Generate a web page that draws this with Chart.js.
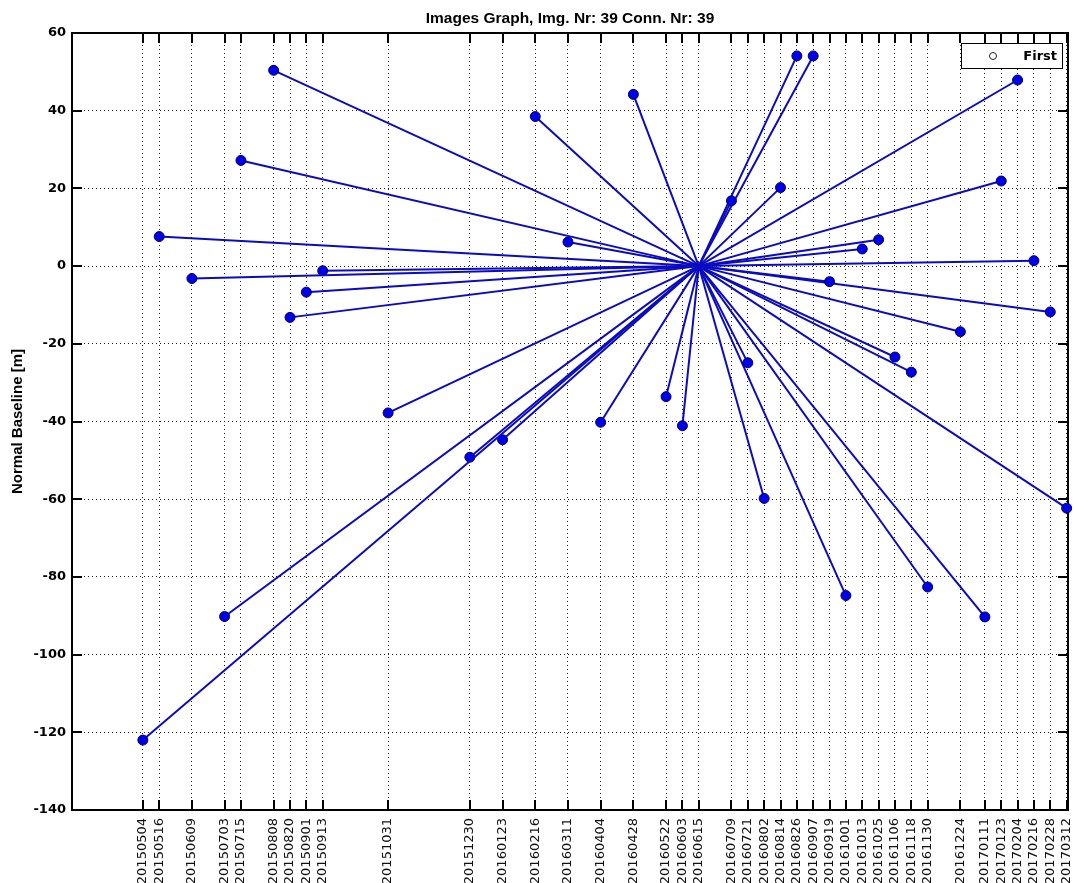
<!DOCTYPE html>
<html>
<head>
<meta charset="utf-8">
<title>Images Graph</title>
<script src="https://cdn.jsdelivr.net/npm/chart.js@4.4.1/dist/chart.umd.min.js"></script>
<style>
  html, body { margin: 0; padding: 0; background: #fff; }
  #wrap { width: 1074px; height: 883px; position: relative; }
</style>
</head>
<body>
<div id="wrap"><canvas id="baseline-chart"></canvas></div>
<script>
// Acquisition dates (yyyymmdd) and their normal baseline to the master image [m]
const acqDates = [
  '20150504', '20150516', '20150609', '20150703', '20150715', '20150808', '20150820',
  '20150901', '20150913', '20151031', '20151230', '20160123', '20160216', '20160311',
  '20160404', '20160428', '20160522', '20160603', '20160615', '20160709', '20160721',
  '20160802', '20160814', '20160826', '20160907', '20160919', '20161001', '20161013',
  '20161025', '20161106', '20161118', '20161130', '20161224', '20170111', '20170123',
  '20170204', '20170216', '20170228', '20170312'
];
const normalBaselines = [
  -122.0, 7.6, -3.2, -90.2, 27.2, 50.4, -13.2,
  -6.7, -1.2, -37.8, -49.2, -44.7, 38.5, 6.2,
  -40.2, 44.2, -33.6, -41.1, 0.0, 16.8, -24.9,
  -59.8, 20.2, 54.1, 54.1, -4.0, -84.8, 4.4,
  6.8, -23.4, -27.3, -82.6, -16.9, -90.3, 21.9,
  47.9, 1.4, -11.8, -62.3
];
const masterDate = '20160615';

// axis limits
const xLimitDates = ['20150313', '20170313'];
const yMin = -140;
const yMax = 60;
const yStep = 20;

const titleText = 'Images Graph, Img. Nr: 39 Conn. Nr: 39';
const yTitleText = 'Normal Baseline [m]';
const legendText = 'First';

const FONT = '"DejaVu Sans", "Liberation Sans", Arial, sans-serif';
const TITLE_FONT = '"Liberation Sans", Arial, sans-serif';
const LINE_BLUE = '#0b0bc0';

// dates -> days since first acquisition, so the x axis is linear in time
function dayNumber(s) {
  return Date.UTC(+s.slice(0, 4), +s.slice(4, 6) - 1, +s.slice(6, 8)) / 86400000;
}
const dayZero = dayNumber(acqDates[0]);
const xDays = acqDates.map(d => dayNumber(d) - dayZero);
const masterIdx = acqDates.indexOf(masterDate);
const masterPoint = { x: xDays[masterIdx], y: normalBaselines[masterIdx] };

// one dataset per connection: master -> slave
const datasets = [];
acqDates.forEach((d, i) => {
  if (i === masterIdx) return;
  datasets.push({
    data: [masterPoint, { x: xDays[i], y: normalBaselines[i] }],
    showLine: true,
    borderColor: LINE_BLUE,
    borderWidth: 2,
    pointRadius: [0, 5],
    pointHoverRadius: [0, 5],
    pointBackgroundColor: '#0000e8',
    pointBorderColor: '#00006a',
    pointBorderWidth: 1,
    clip: false
  });
});

// master image marker (open circle)
datasets.push({
  label: legendText,
  data: [masterPoint],
  showLine: false,
  pointRadius: 3.5,
  pointBackgroundColor: 'rgba(0,0,0,0)',
  pointBorderColor: LINE_BLUE,
  pointBorderWidth: 1,
  clip: false
});

// MATLAB-like box, inward tick marks and legend
const matlabAxes = {
  id: 'matlabAxes',
  beforeDatasetsDraw(chart) {
    const { ctx, chartArea: a, scales: { x, y } } = chart;
    const tl = 10;
    ctx.save();
    ctx.strokeStyle = '#000';
    ctx.lineWidth = 2;
    ctx.beginPath();
    x.ticks.forEach(t => {
      const px = Math.round(x.getPixelForValue(t.value));
      ctx.moveTo(px, a.bottom);
      ctx.lineTo(px, a.bottom - tl);
      ctx.moveTo(px, a.top);
      ctx.lineTo(px, a.top + tl);
    });
    y.ticks.forEach(t => {
      const py = Math.round(y.getPixelForValue(t.value));
      ctx.moveTo(a.left, py);
      ctx.lineTo(a.left + tl, py);
      ctx.moveTo(a.right, py);
      ctx.lineTo(a.right - tl, py);
    });
    ctx.stroke();
    ctx.strokeRect(a.left, a.top, a.right - a.left, a.bottom - a.top);
    ctx.restore();
  },
  afterDraw(chart) {
    const { ctx, chartArea: a } = chart;
    const w = 101, h = 25;
    const bx = a.right - 6 - w;
    const by = a.top + 10;
    ctx.save();
    ctx.fillStyle = '#fff';
    ctx.fillRect(bx, by, w, h);
    ctx.strokeStyle = '#000';
    ctx.lineWidth = 1;
    ctx.strokeRect(bx + 0.5, by + 0.5, w, h);
    ctx.beginPath();
    ctx.arc(bx + 32, by + h / 2 + 0.5, 3.5, 0, Math.PI * 2);
    ctx.strokeStyle = '#222';
    ctx.stroke();
    ctx.fillStyle = '#000';
    ctx.font = 'bold 13px ' + FONT;
    ctx.textAlign = 'right';
    ctx.textBaseline = 'middle';
    ctx.fillText(legendText, bx + w - 5, by + h / 2 + 1);
    ctx.restore();
  }
};

const ctx = document.getElementById('baseline-chart').getContext('2d');
new Chart(ctx, {
  type: 'scatter',
  data: { datasets: datasets },
  plugins: [matlabAxes],
  options: {
    responsive: true,
    maintainAspectRatio: false,
    animation: false,
    events: [],
    layout: { padding: { left: 0, right: 5, top: 0, bottom: 0 } },
    plugins: {
      legend: { display: false },
      tooltip: { enabled: false },
      title: {
        display: true,
        text: titleText,
        fullSize: false,
        color: '#000',
        font: { family: TITLE_FONT, size: 15.5, weight: 'bold', lineHeight: 1.2 },
        padding: { top: 9.7, bottom: 4.7 }
      }
    },
    scales: {
      x: {
        type: 'linear',
        min: dayNumber(xLimitDates[0]) - dayZero,
        max: dayNumber(xLimitDates[1]) - dayZero,
        afterBuildTicks: (scale) => {
          scale.ticks = xDays.map(v => ({ value: v }));
        },
        afterFit: (scale) => {
          scale.height = 73;
          scale.paddingLeft = 0;
          scale.paddingRight = 0;
        },
        grid: { color: '#222', lineWidth: 1, drawTicks: false },
        border: { display: false, dash: [1, 3] },
        ticks: {
          autoSkip: false,
          minRotation: 90,
          maxRotation: 90,
          padding: 8,
          color: '#111',
          font: { family: FONT, size: 13 },
          callback: (value) => acqDates[xDays.indexOf(value)]
        }
      },
      y: {
        type: 'linear',
        min: yMin,
        max: yMax,
        afterFit: (scale) => {
          scale.width = 72;
          scale.paddingTop = 0;
          scale.paddingBottom = 0;
        },
        grid: { color: '#222', lineWidth: 1, drawTicks: false },
        border: { display: false, dash: [1, 3] },
        ticks: {
          stepSize: yStep,
          padding: 6,
          color: '#000',
          font: { family: FONT, size: 13, weight: 'bold' }
        },
        title: {
          display: true,
          text: yTitleText,
          color: '#000',
          font: { family: TITLE_FONT, size: 15, weight: 'bold', lineHeight: 1.2 },
          padding: { top: 9, bottom: 0 }
        }
      }
    }
  }
});
</script>
</body>
</html>
